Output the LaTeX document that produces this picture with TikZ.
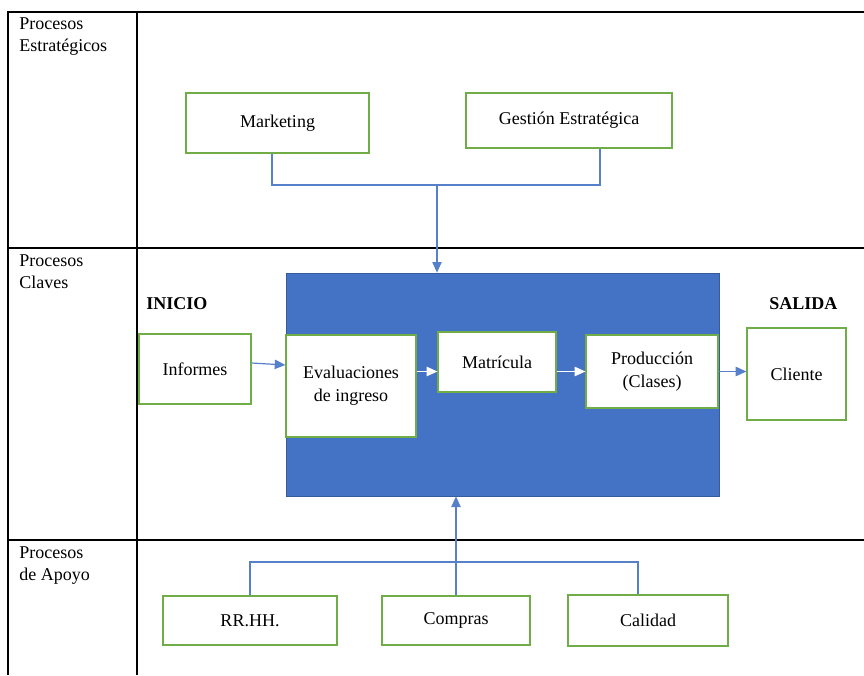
\documentclass[tikz,border=0pt]{standalone}
\usepackage{fontspec}
\setmainfont{Liberation Serif}
\usepackage{tikz}
\usetikzlibrary{positioning,arrows.meta,calc}
\definecolor{msblue}{HTML}{4472C4}
\definecolor{msgreen}{HTML}{70AD47}
\tikzset{
  proc/.style={draw=msgreen, line width=0.9pt, fill=white, align=center, inner sep=0pt},
  core/.style={draw=msblue!80!black, fill=msblue, line width=0.5pt, inner sep=0pt},
  conn/.style={draw=msblue!90!white, line width=0.9pt},
  arr/.style={conn, -{Triangle[length=8pt, width=7pt]}},
  warr/.style={arr, draw=white},
  lab/.style={align=left, inner sep=0pt, anchor=north west},
  tag/.style={font=\fontsize{13.5}{17}\selectfont\bfseries, inner sep=0pt, anchor=west},
}

\begin{document}
\begin{tikzpicture}[x=0.75pt, y=-0.75pt, font=\fontsize{13.5}{17}\selectfont]
    \useasboundingbox (0,0) rectangle (864,675);
    % table
    \draw[line width=0.8pt] (8,675) -- (8,12) -- (864,12);
    \draw[line width=0.8pt] (137,12) -- (137,675);
    \draw[line width=0.8pt] (8,248) -- (864,248);
    \draw[line width=0.8pt] (8,540) -- (864,540);
    \node[lab] (lstr) at (19,17) {Procesos\\Estratégicos};
    \node[lab] (lcla) at (19,254) {Procesos\\Claves};
    \node[lab] (lapo) at (19,546) {Procesos\\de Apoyo};
    % strategic
    \node[proc, minimum width=183*0.75pt, minimum height=60*0.75pt] (mkt) at (277.5,123) {Marketing};
    \node[proc, minimum width=206*0.75pt, minimum height=55*0.75pt] (gest) at (569,120.5) {Gestión Estratégica};
    % key processes
    \node[core, minimum width=433*0.75pt, minimum height=223*0.75pt] (core) at (502.5,384.5) {};
    \node[tag] (ini) at (146,304) {INICIO};
    \node[tag] (sal) at (769,304) {SALIDA};
    \node[proc, minimum width=112*0.75pt, minimum height=70*0.75pt] (inf) at (195,369) {Informes};
    \node[proc, minimum width=130*0.75pt, minimum height=102*0.75pt] (eval) at (351,386) {Evaluaciones\\de ingreso};
    \node[proc, minimum width=118*0.75pt, minimum height=60*0.75pt] (mat) at (497,362) {Matrícula};
    \node[proc, minimum width=132*0.75pt, minimum height=73*0.75pt] (prod) at (652,371.5) {Producción\\(Clases)};
    \node[proc, minimum width=99*0.75pt, minimum height=92*0.75pt] (cli) at (796.5,374) {Cliente};
    % support
    \node[proc, minimum width=174*0.75pt, minimum height=49*0.75pt] (rrhh) at (250,620.5) {RR.HH.};
    \node[proc, minimum width=148*0.75pt, minimum height=49*0.75pt] (comp) at (456,620.5) {Compras};
    \node[proc, minimum width=160*0.75pt, minimum height=51*0.75pt] (cal) at (648,620.5) {Calidad};
    \coordinate (jtop) at (437,185);
    \coordinate (jbot) at (456,562);
    \draw[conn] ($(mkt.south)+(-5.5,0)$) |- (jtop) -| ($(gest.south)+(31,0)$);
    \draw[arr] (jtop) -- (jtop |- core.north);
    \draw[conn] (rrhh.north) |- (jbot) -| ($(cal.north)+(-10,0)$);
    \draw[arr] (comp.north) -- (comp.north |- core.south);
    \draw[arr] ($(inf.east)+(0,-6)$) -- ($(inf.east -| eval.west)+(0,-4)$);
    \draw[warr] (eval.east |- prod.west) -- (mat.west |- prod.west);
    \draw[warr] (mat.east |- prod.west) -- (prod.west);
    \draw[arr] (prod.east) -- (cli.west |- prod.east);
\end{tikzpicture}
\end{document}
